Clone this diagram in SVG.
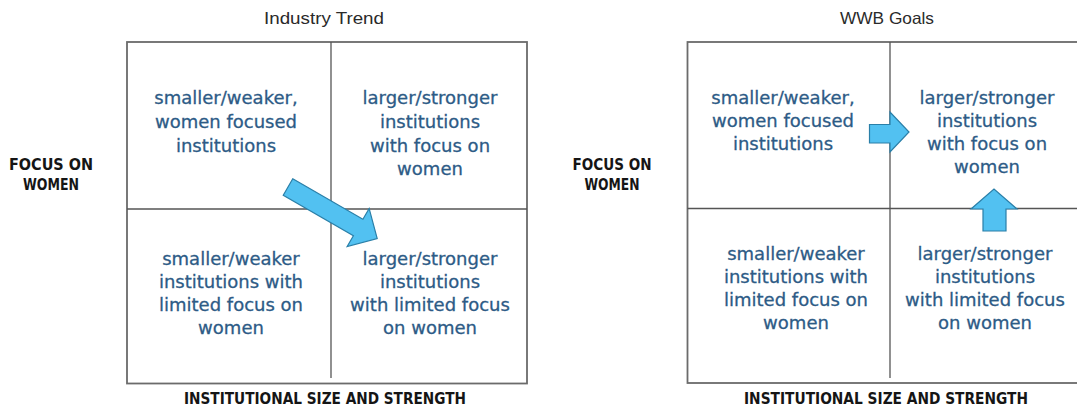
<svg xmlns="http://www.w3.org/2000/svg" width="1077" height="407" viewBox="0 0 1077 407">
  <defs>
    <style>
      .frame { fill: none; stroke: #6b6b6b; stroke-width: 1.8; }
      .div { stroke: #555; stroke-width: 1.3; }
      .title { font-family: "Liberation Sans", Arial, sans-serif; font-size: 16.5px; fill: #2a2a2a; text-anchor: middle; }
      .axis { font-family: "DejaVu Sans", "Liberation Sans", sans-serif; font-size: 16px; font-weight: bold; fill: #151515; text-anchor: middle; }
      .cell { font-family: "DejaVu Sans", Verdana, sans-serif; font-size: 18px; fill: #2d5b86; stroke: #2d5b86; stroke-width: 0.3; text-anchor: middle; }
      .arrow { fill: #52c1f1; stroke: #2a7fa8; stroke-width: 1.2; stroke-linejoin: miter; }
    </style>
  </defs>

  <rect width="1077" height="407" fill="#ffffff"/>

  <!-- Left matrix: Industry Trend -->
  <g id="industry-trend">
    <text class="title" x="324" y="24" textLength="120" lengthAdjust="spacingAndGlyphs">Industry Trend</text>
    <rect class="frame" x="127" y="42" width="400" height="341.5"/>
    <line class="div" x1="331" y1="42" x2="331" y2="378"/>
    <line class="div" x1="127" y1="209" x2="527" y2="209"/>
    <text class="axis" x="51" y="170" textLength="84" lengthAdjust="spacingAndGlyphs">FOCUS ON</text>
    <text class="axis" x="51" y="190" textLength="56" lengthAdjust="spacingAndGlyphs">WOMEN</text>
    <text class="axis" x="325" y="404" textLength="282" lengthAdjust="spacingAndGlyphs">INSTITUTIONAL SIZE AND STRENGTH</text>
  </g>

  <g id="it-small-women">
    <text class="cell" x="226" y="104">smaller/weaker,</text>
    <text class="cell" x="226" y="128">women focused</text>
    <text class="cell" x="226" y="152">institutions</text>
  </g>
  <g id="it-large-women">
    <text class="cell" x="430" y="104">larger/stronger</text>
    <text class="cell" x="430" y="128">institutions</text>
    <text class="cell" x="430" y="152">with focus on</text>
    <text class="cell" x="430" y="175">women</text>
  </g>
  <g id="it-small-limited">
    <text class="cell" x="231" y="265">smaller/weaker</text>
    <text class="cell" x="231" y="288">institutions with</text>
    <text class="cell" x="231" y="311">limited focus on</text>
    <text class="cell" x="231" y="334">women</text>
  </g>
  <g id="it-large-limited">
    <text class="cell" x="430" y="265">larger/stronger</text>
    <text class="cell" x="430" y="288">institutions</text>
    <text class="cell" x="430" y="311">with limited focus</text>
    <text class="cell" x="430" y="334">on women</text>
  </g>

  <!-- Right matrix: WWB Goals -->
  <g id="wwb-goals">
    <text class="title" x="887" y="24" textLength="94" lengthAdjust="spacingAndGlyphs">WWB Goals</text>
    <rect class="frame" x="687.5" y="42" width="395" height="341"/>
    <line class="div" x1="890" y1="42" x2="890" y2="378"/>
    <line class="div" x1="687.5" y1="208.5" x2="1077" y2="208.5"/>
    <text class="axis" x="612" y="170" textLength="79" lengthAdjust="spacingAndGlyphs">FOCUS ON</text>
    <text class="axis" x="612" y="190" textLength="55" lengthAdjust="spacingAndGlyphs">WOMEN</text>
    <text class="axis" x="886" y="404" textLength="284" lengthAdjust="spacingAndGlyphs">INSTITUTIONAL SIZE AND STRENGTH</text>
  </g>

  <g id="wwb-small-women">
    <text class="cell" x="783" y="104">smaller/weaker,</text>
    <text class="cell" x="783" y="127">women focused</text>
    <text class="cell" x="783" y="150">institutions</text>
  </g>
  <g id="wwb-large-women">
    <text class="cell" x="987" y="104">larger/stronger</text>
    <text class="cell" x="987" y="127">institutions</text>
    <text class="cell" x="987" y="150">with focus on</text>
    <text class="cell" x="987" y="173">women</text>
  </g>
  <g id="wwb-small-limited">
    <text class="cell" x="796" y="260">smaller/weaker</text>
    <text class="cell" x="796" y="283">institutions with</text>
    <text class="cell" x="796" y="306">limited focus on</text>
    <text class="cell" x="796" y="329">women</text>
  </g>
  <g id="wwb-large-limited">
    <text class="cell" x="985" y="260">larger/stronger</text>
    <text class="cell" x="985" y="283">institutions</text>
    <text class="cell" x="985" y="306">with limited focus</text>
    <text class="cell" x="985" y="329">on women</text>
  </g>

  <!-- Block arrows -->
  <g id="connectors">
    <!-- diagonal: small/women-focused toward large/limited focus -->
    <path class="arrow" transform="translate(288 187) rotate(30)"
          d="M0,-9.5 L81,-9.5 L81,-22 L103,0 L81,22 L81,9.5 L0,9.5 Z"/>
    <!-- rightward: small/women-focused toward large/women-focused -->
    <path class="arrow" d="M869.5,124.5 L890,124.5 L890,112 L909,132 L890,152 L890,143 L869.5,143 Z"/>
    <!-- upward: large/limited toward large/women-focused -->
    <path class="arrow" d="M983,231 L983,209 L971,209 L994,189 L1017,209 L1006,209 L1006,231 Z"/>
  </g>
</svg>
